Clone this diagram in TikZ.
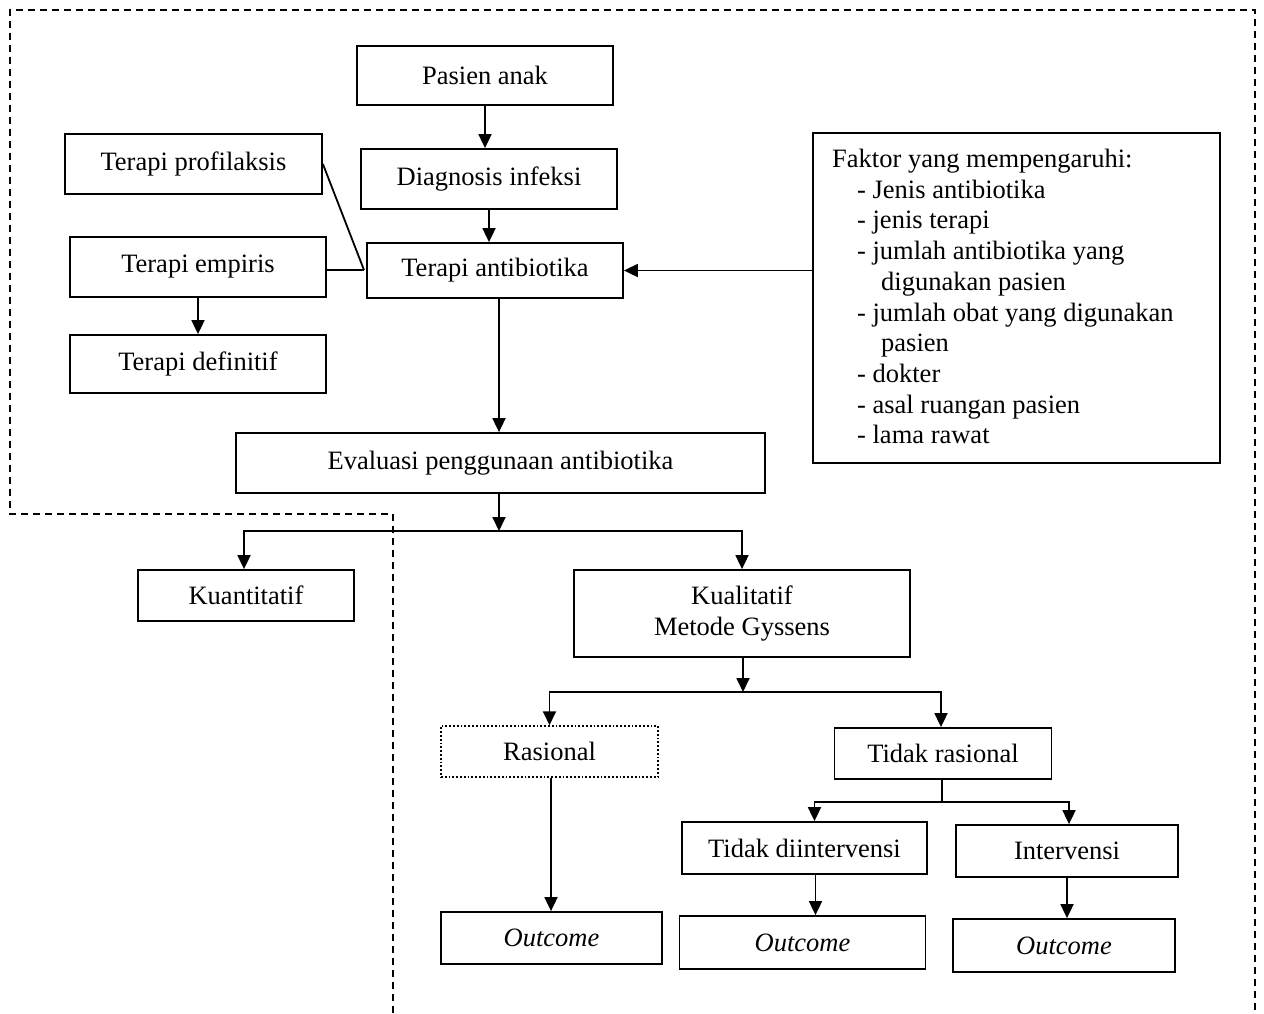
\documentclass[tikz,border=0pt]{standalone}
\usepackage{fontspec}
\setmainfont{Liberation Serif}
\usetikzlibrary{arrows.meta,calc}
\tikzset{
  box/.style={draw, line width=1.8pt, fill=white, inner sep=0pt, align=center,
    font=\fontsize{26.5}{30.7}\selectfont},
  arr/.style={line width=1.8pt, -{Triangle[length=14pt,width=13pt]}},
  ln/.style={line width=1.8pt},
  border/.style={line width=1.6pt, dash pattern=on 7pt off 5pt},
}
\begin{document}
\begin{tikzpicture}[x=1pt,y=-1pt]
\useasboundingbox (0,0) rectangle (1264,1013);
% dashed frame
\draw[border] (393,1013) -- (393,514) -- (10,514) -- (10,10) -- (1255,10) -- (1255,1013);

% nodes
\node[box, minimum width=256pt, minimum height=59pt] (pasien) at (485,75.5) {Pasien anak};
\node[box, minimum width=256pt, minimum height=60pt] (diag) at (489,179) {Diagnosis infeksi};
\node[box, minimum width=256pt, minimum height=55pt] (ab) at (495,270.5) {Terapi antibiotika};
\node[box, minimum width=257pt, minimum height=60pt] (prof) at (193.5,164) {Terapi profilaksis};
\node[box, minimum width=256pt, minimum height=60pt] (emp) at (198,267) {Terapi empiris};
\node[box, minimum width=256pt, minimum height=58pt] (def) at (198,364) {Terapi definitif};
\node[box, minimum width=529pt, minimum height=60pt] (eval) at (500.5,463) {Evaluasi penggunaan antibiotika};
\node[box, minimum width=407pt, minimum height=330pt, anchor=north west] (faktor) at (812,132) {};
\node[anchor=north west, align=left, inner sep=0pt, font=\fontsize{26.5}{30.7}\selectfont] (faktortxt) at (832,149)
  {Faktor yang mempengaruhi:\\
   \hspace*{25pt}- Jenis antibiotika\\
   \hspace*{25pt}- jenis terapi\\
   \hspace*{25pt}- jumlah antibiotika yang\\
   \hspace*{49pt}digunakan pasien\\
   \hspace*{25pt}- jumlah obat yang digunakan\\
   \hspace*{49pt}pasien\\
   \hspace*{25pt}- dokter\\
   \hspace*{25pt}- asal ruangan pasien\\
   \hspace*{25pt}- lama rawat};
\node[box, minimum width=216pt, minimum height=51pt] (kuan) at (246,595.5) {Kuantitatif};
\node[box, minimum width=336pt, minimum height=87pt] (kual) at (742,613.5) {Kualitatif\\Metode Gyssens};
\node[box, dotted, line width=1.5pt, minimum width=217pt, minimum height=51pt] (ras) at (549.5,751.5) {Rasional};
\node[box, minimum width=217pt, minimum height=51pt] (tr) at (943,753.5) {Tidak rasional};
\node[box, minimum width=245pt, minimum height=52pt] (tdi) at (804.5,848) {Tidak diintervensi};
\node[box, minimum width=222pt, minimum height=52pt] (int) at (1067,851) {Intervensi};
\node[box, minimum width=221pt, minimum height=52pt] (out1) at (551.5,938) {\textit{Outcome}};
\node[box, minimum width=246pt, minimum height=53pt] (out2) at (802.5,942.5) {\textit{Outcome}};
\node[box, minimum width=222pt, minimum height=53pt] (out3) at (1064,945.5) {\textit{Outcome}};

% connectors
\draw[arr] (pasien.south) -- (pasien.south |- diag.north);
\draw[arr] (diag.south) -- (diag.south |- ab.north);
\draw[arr] ($(ab.south)+(4,0)$) -- ($(ab.south |- eval.north)+(4,0)$);
\draw[arr] (faktor.west |- ab.east) -- (ab.east);
\coordinate (j) at (364,270);
\draw[ln] (prof.east) -- (j);
\draw[ln] (emp.east |- j) -- (j);
\draw[arr] (emp.south) -- (def.north);

\coordinate (evb) at (499,531);
\draw[arr] (eval.south -| evb) -- (evb);
\draw[arr] (evb) -| ($(kuan.north)+(-2,0)$);
\draw[arr] (evb) -| (kual.north);

\coordinate (kb) at (743,692);
\draw[arr] (kual.south -| kb) -- (kb);
\draw[arr] (kb) -| (ras.north);
\draw[arr] (kb) -| ($(tr.north)+(-2,0)$);
\draw[arr] ($(ras.south)+(1.5,0)$) -- ($(ras.south |- out1.north)+(1.5,0)$);

\coordinate (tb) at (942,802);
\draw[ln] (tr.south -| tb) -- (tb);
\draw[arr] (tb) -| ($(tdi.north)+(10,0)$);
\draw[arr] (tb) -| ($(int.north)+(2,0)$);
\draw[arr] ($(tdi.south)+(11,0)$) -- ($(tdi.south |- out2.north)+(11,0)$);
\draw[arr] (int.south) -- (int.south |- out3.north);
\end{tikzpicture}
\end{document}
